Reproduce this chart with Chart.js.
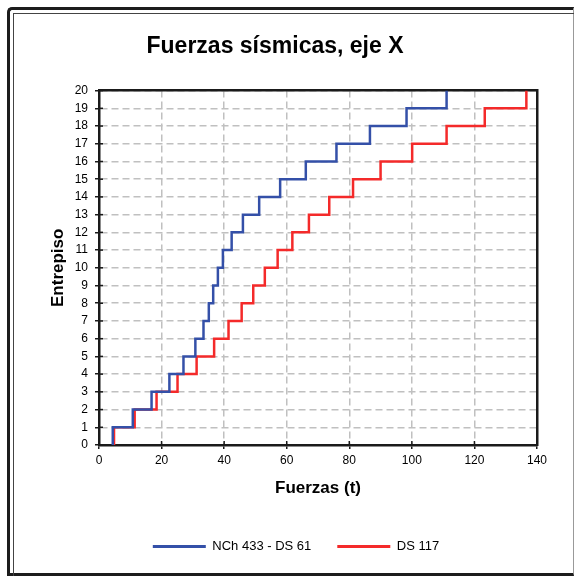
<!DOCTYPE html>
<html>
<head>
<meta charset="utf-8">
<script src="https://cdn.jsdelivr.net/npm/chart.js@4/dist/chart.umd.min.js"></script>
<style>
  body { margin: 0; background: #fff; }
  #wrap { position: relative; width: 574px; height: 576px; }
  #frame { position: absolute; left: 7px; top: 7px; right: 0; bottom: 0;
    border-top: 3px solid #1c1c1c; border-left: 3px solid #1c1c1c;
    border-bottom: 3px solid #1c1c1c; border-right: 1px solid #999;
    border-top-left-radius: 5px; pointer-events: none; }
  #inner { position: absolute; left: 13px; top: 13px; right: 0; bottom: 0;
    border-top: 1px solid #444; border-left: 1px solid #444; pointer-events: none; }
</style>
</head>
<body>
<div id="wrap">
  <canvas id="fuerzas" width="574" height="576"></canvas>
  <div id="frame"></div>
  <div id="inner"></div>
</div>
<script>
// pisos (entrepisos) y fuerzas por piso, en t
const pisos = [1, 2, 3, 4, 5, 6, 7, 8, 9, 10, 11, 12, 13, 14, 15, 16, 17, 18, 19, 20];
const fuerzasNCh433 = [4.4, 10.8, 16.8, 22.5, 27.0, 30.8, 33.4, 35.1, 36.5, 38.0,
                       39.6, 42.4, 46.0, 51.2, 57.9, 66.1, 75.9, 86.6, 98.3, 111.1];
const fuerzasDS117 = [4.8, 11.4, 18.4, 25.1, 31.2, 36.8, 41.4, 45.6, 49.3, 53.0,
                      57.1, 61.8, 67.1, 73.6, 81.2, 90.0, 100.1, 111.1, 123.3, 136.6];
const series = ['NCh 433 - DS 61', 'DS 117'];
const xMax = 140, xStep = 20;
const yMax = 20, yStep = 1;

// cada piso: tramo vertical de (f, piso-1) a (f, piso)
function escalones(fuerzas) {
  const pts = [];
  fuerzas.forEach((f, i) => {
    pts.push({ x: f, y: pisos[i] - 1 }, { x: f, y: pisos[i] });
  });
  return pts;
}

Chart.defaults.font.family = '"Liberation Sans", Arial, sans-serif';
Chart.defaults.color = '#000';

const ejeNegro = '#1a1a1a';
const gris = '#c0c0c0';

// marcas de ticks hacia adentro del area (cruzan el eje)
const innerTicks = {
  id: 'innerTicks',
  afterDatasetsDraw(chart) {
    const { ctx, chartArea, scales } = chart;
    ctx.save();
    ctx.strokeStyle = ejeNegro;
    ctx.lineWidth = 1.5;
    scales.x.ticks.forEach((t, i) => {
      const px = scales.x.getPixelForTick(i);
      ctx.beginPath();
      ctx.moveTo(px, chartArea.bottom);
      ctx.lineTo(px, chartArea.bottom - 4);
      ctx.stroke();
    });
    scales.y.ticks.forEach((t, i) => {
      const py = scales.y.getPixelForTick(i);
      ctx.beginPath();
      ctx.moveTo(chartArea.left, py);
      ctx.lineTo(chartArea.left + 4, py);
      ctx.stroke();
    });
    ctx.restore();
  }
};

const legendShift = {
  id: 'legendShift',
  afterLayout(chart) {
    chart.legend.left += 21;
    chart.legend.right += 21;
  }
};

const gridOpts = {
  color: gris,
  lineWidth: 1.5,
  tickLength: 4,
  tickColor: ejeNegro,
  tickWidth: 1.5,
  tickBorderDash: []
};
const borderOpts = { color: ejeNegro, width: 2.5, dash: [7, 4] };

new Chart(document.getElementById('fuerzas'), {
  type: 'scatter',
  data: {
    datasets: [{
      label: series[0],
      data: escalones(fuerzasNCh433),
      borderColor: '#3450a8',
      backgroundColor: '#3450a8',
      borderWidth: 2.5,
      showLine: true,
      pointRadius: 0,
      tension: 0
    }, {
      label: series[1],
      data: escalones(fuerzasDS117),
      borderColor: '#f42a2a',
      backgroundColor: '#f42a2a',
      borderWidth: 2.5,
      showLine: true,
      pointRadius: 0,
      tension: 0
    }]
  },
  options: {
    responsive: false,
    animation: false,
    layout: { padding: { left: 0, right: 24, top: 0, bottom: 13 } },
    plugins: {
      title: {
        display: true,
        text: 'Fuerzas sísmicas, eje X',
        font: { size: 23, weight: 'bold' },
        color: '#000',
        padding: { top: 33, bottom: 30 }
      },
      legend: {
        position: 'bottom',
        labels: {
          boxWidth: 53,
          boxHeight: 3,
          padding: 26,
          color: '#000',
          font: { size: 13 },
          generateLabels: (chart) =>
            Chart.defaults.plugins.legend.labels.generateLabels(chart)
              .map(l => ({ ...l, lineWidth: 0 }))
        }
      },
      tooltip: { enabled: false }
    },
    scales: {
      x: {
        type: 'linear',
        min: 0, max: xMax,
        ticks: { stepSize: xStep, font: { size: 12 }, padding: 4, color: '#000' },
        grid: gridOpts,
        border: borderOpts,
        title: {
          display: true, text: 'Fuerzas (t)', color: '#000',
          font: { size: 17, weight: 'bold' },
          padding: { top: 0, bottom: 15 }
        },
        afterFit(s) { s.height = 69; }
      },
      y: {
        type: 'linear',
        min: 0, max: yMax,
        ticks: { stepSize: yStep, font: { size: 12 }, padding: 7, color: '#000' },
        grid: gridOpts,
        border: borderOpts,
        title: {
          display: true, text: 'Entrepiso', color: '#000',
          font: { size: 17, weight: 'bold' },
          padding: { top: 48, bottom: 0 }
        },
        afterFit(s) { s.width = 99; }
      },
      x2: {
        type: 'linear', position: 'top',
        min: 0, max: xMax,
        ticks: { display: false },
        grid: { drawOnChartArea: false, drawTicks: false },
        border: { color: ejeNegro, width: 2.5 },
        afterFit(s) { s.height = 0; }
      },
      y2: {
        type: 'linear', position: 'right',
        min: 0, max: yMax,
        ticks: { display: false },
        grid: { drawOnChartArea: false, drawTicks: false },
        border: { color: ejeNegro, width: 2.5 },
        afterFit(s) { s.width = 13; }
      }
    }
  },
  plugins: [innerTicks, legendShift]
});
</script>
</body>
</html>
